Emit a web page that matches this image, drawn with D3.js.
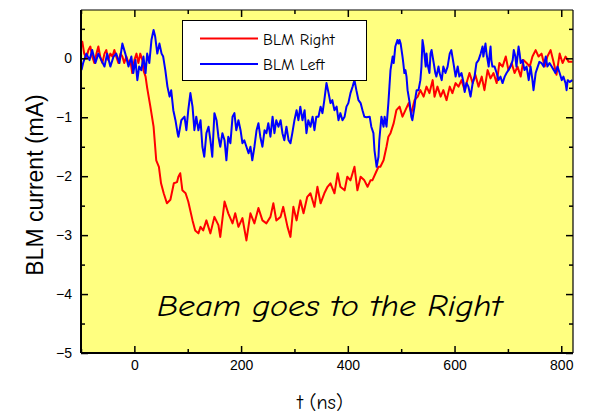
<!DOCTYPE html>
<html>
<head>
<meta charset="utf-8">
<script src="https://cdn.jsdelivr.net/npm/d3@7"></script>
<style>
  html, body { margin: 0; padding: 0; background: #ffffff; }
  svg { display: block; }
</style>
</head>
<body>
<svg id="chart" width="594" height="416"></svg>
<script>
// ---- data ----
const seriesNames = ["BLM Right", "BLM Left"];

const redT = [-99,-97.5,-94,-90,-86,-82.5,-79,-75,-71,-67.5,-64,-60,-56,-52.5,-49,-45,-41,-37.5,-34,-30,-26,-22.5,-19,-15,-11,-7.5,-4,0,4,7.5,11,15,17,21,24,30,36,41,46,50,55,61,67.5,74,80,82.5,86,90,96,101,109,114,120,124,129,135,142.5,150,157.5,161,169,176,184,189,195,202.5,210,217.5,225,232.5,240,247.5,255,260.5,266,274,279,287,292.5,298,304,311,317,324,330,337.5,343,349,356,362,367.5,375,381,386,394,399,405,412.5,418,424,431,437,442.5,446,452,457.5,461,467,472.5,476,480,486,491,497,502.5,508,514,519,525,531,536,542,547.5,553,559,562.5,568,574,579,585,591,596,602,607.5,613,619,622.5,628,634,639,645,651,656,662,667.5,673,679,684,690,696,701,707,712.5,718,724,729,735,741,746,752,757.5,763,769,774,780,786,791,797,802.5,808,814,821];
const redV = [0.20,0.28,0.08,0.00,0.14,0.20,0.03,-0.08,0.08,0.20,0.03,-0.08,0.08,0.14,-0.03,0.08,0.03,0.14,0.03,-0.08,0.08,0.03,-0.08,0.03,-0.08,-0.03,-0.25,-0.03,0.08,-0.08,0.08,-0.03,-0.20,-0.31,-0.50,-0.82,-1.16,-1.73,-1.84,-2.12,-2.29,-2.46,-2.40,-2.12,-2.10,-2.01,-1.95,-2.24,-2.29,-2.43,-2.75,-2.92,-2.97,-2.86,-2.92,-2.75,-2.97,-2.69,-2.83,-3.03,-2.43,-2.63,-2.80,-2.63,-2.86,-2.71,-3.09,-2.63,-2.80,-2.54,-2.75,-2.80,-2.69,-2.46,-2.75,-2.69,-2.52,-2.86,-3.03,-2.52,-2.75,-2.41,-2.63,-2.35,-2.29,-2.52,-2.18,-2.46,-2.29,-2.18,-2.12,-2.29,-1.95,-2.18,-2.24,-2.01,-2.07,-1.84,-2.24,-2.01,-2.07,-2.18,-2.07,-2.07,-1.95,-1.84,-1.84,-1.73,-1.50,-1.33,-1.27,-1.10,-0.88,-0.82,-0.99,-0.88,-0.76,-0.93,-0.71,-0.65,-0.54,-0.65,-0.48,-0.59,-0.37,-0.65,-0.48,-0.65,-0.54,-0.71,-0.48,-0.59,-0.42,-0.48,-0.37,-0.54,-0.42,-0.25,-0.42,-0.28,-0.48,-0.31,-0.54,-0.20,-0.34,-0.25,-0.42,-0.08,-0.14,0.03,-0.20,-0.08,-0.25,-0.14,-0.31,-0.03,-0.08,-0.14,0.03,0.14,0.03,0.08,-0.14,0.03,0.14,-0.08,-0.28,0.08,-0.08,0.03,-0.06,-0.06];

const blueT = [-99,-96,-90,-84,-79,-73,-67.5,-62,-56,-51,-45,-39,-34,-28,-22.5,-17,-11,-5.6,-2,2,5.6,9,13,17,21,24,28,32,36,39,43,47,51,54,58,62,66,69,73,77,81,82.5,88,94,97.5,101,105,109,112.5,116,120,124,127.5,131,135,139,142.5,146,150,154,157.5,161,165,169,172.5,176,180,184,187.5,191,195,199,202.5,206,210,214,217.5,221,225,229,232.5,236,240,244,247.5,251,255,259,262.5,266,270,274,277.5,281,285,289,292.5,296,300,304,307.5,311,315,319,322.5,326,330,334,337.5,341,345,349,352.5,356,360,364,367.5,371,375,379,382.5,386,390,394,397.5,401,405,409,412.5,416,420,424,427.5,431,435,441,444,448,450,454,457.5,459,463,467,469,472.5,476,478,480,484,486,489,493,495,497,499,502.5,504,506,508,510,512,516,517.5,519,521,525,527,529,532.5,536,538,540,542,544,546,547.5,549,553,555,557,561,564,566,570,572,576,579,583,587,591,594,598,602,606,609,613,617,619,622.5,626,630,634,637.5,641,645,649,652.5,654,658,660,664,666,667.5,669,671,675,679,682.5,686,690,694,697.5,701,705,709,711,714,716,720,722,724,727.5,731,735,739,742.5,746,748,752,756,759,763,767,771,774,778,782,786,789,793,797,801,804,808,810,812,816,821];
const blueV = [-0.20,-0.08,0.08,-0.03,0.14,-0.08,0.08,-0.03,-0.14,0.08,-0.14,0.03,0.08,-0.08,0.25,0.08,-0.14,0.03,-0.25,-0.03,-0.37,-0.14,-0.20,0.03,-0.25,0.08,-0.08,0.31,0.48,0.37,0.08,0.25,0.08,0.03,-0.20,-0.48,-0.65,-0.54,-0.88,-1.05,-1.27,-1.33,-1.05,-0.99,-1.22,-0.88,-0.59,-0.82,-1.22,-0.99,-1.22,-1.05,-1.50,-1.67,-1.27,-1.16,-1.39,-1.67,-0.93,-1.05,-1.33,-1.50,-1.27,-1.39,-1.73,-1.33,-1.44,-0.99,-0.93,-1.22,-1.05,-1.22,-1.44,-1.39,-1.50,-1.61,-1.50,-1.73,-1.50,-1.22,-1.10,-1.33,-1.50,-1.22,-1.27,-1.10,-1.33,-0.99,-1.27,-1.05,-1.16,-1.05,-1.27,-1.39,-1.16,-1.39,-1.44,-1.27,-1.05,-0.88,-1.05,-0.82,-1.05,-0.88,-1.27,-1.05,-1.16,-0.99,-1.22,-0.99,-0.99,-0.82,-0.93,-0.71,-0.42,-0.59,-0.76,-0.71,-0.88,-0.82,-1.05,-0.93,-1.05,-0.99,-0.82,-0.76,-0.59,-0.48,-0.37,-0.54,-0.71,-0.76,-0.88,-0.99,-1.00,-0.99,-1.16,-1.27,-1.56,-1.84,-1.67,-1.39,-0.99,-1.16,-0.99,-1.16,-0.76,-0.48,-0.20,0.03,-0.08,0.20,0.31,0.25,0.31,0.25,0.03,-0.08,-0.25,-0.20,-0.31,-0.54,-0.76,-0.88,-0.99,-1.05,-0.82,-0.65,-0.54,-0.54,-0.37,-0.14,0.31,0.20,0.03,-0.14,0.08,-0.08,-0.25,0.08,0.14,-0.08,-0.25,-0.31,-0.14,-0.25,-0.37,-0.14,-0.25,-0.14,0.08,0.14,-0.08,-0.31,-0.14,-0.31,-0.25,-0.42,-0.57,-0.42,-0.48,-0.65,-0.42,-0.31,-0.08,-0.03,0.08,0.20,0.03,0.25,0.08,-0.14,0.08,0.20,-0.03,-0.14,-0.14,-0.25,-0.37,-0.31,-0.42,-0.31,-0.25,-0.20,-0.14,-0.03,0.14,0.03,-0.14,0.20,0.08,-0.08,-0.03,-0.20,-0.14,-0.37,-0.14,-0.37,-0.54,-0.25,-0.14,-0.06,-0.08,-0.14,0.03,-0.14,-0.08,-0.14,-0.20,-0.25,-0.14,-0.25,-0.37,-0.31,-0.42,-0.54,-0.37,-0.40,-0.37];

const xMajorTicks = [0, 200, 400, 600, 800];
const xMinorTicks = [-100, 100, 300, 500, 700];
const yMajorTicks = [-5, -4, -3, -2, -1, 0];
const yMinorTicks = [-4.5, -3.5, -2.5, -1.5, -0.5, 0.5];
const xDomain = [-100, 822];
const yDomain = [-5, 0.82];
const xTitle = "t (ns)";
const yTitle = "BLM current (mA)";
const annotation = "Beam goes to the Right";
const seriesColors = ["#ff0000", "#0000ff"];

// ---- layout ----
const svg = d3.select("#chart");
const L = 81, T = 10, R = 573, B = 353;
const x = d3.scaleLinear().domain(xDomain).range([L, R]);
const y = d3.scaleLinear().domain(yDomain).range([B, T]);
const comic = "'Comic Sans MS','Comic Neue','DejaVu Sans',sans-serif";
const arial = "'Liberation Sans',Arial,sans-serif";

svg.append("rect").attr("x", L).attr("y", T).attr("width", R - L).attr("height", B - T)
  .attr("fill", "#ffff80");

const clip = svg.append("clipPath").attr("id", "clip");
clip.append("rect").attr("x", L).attr("y", T).attr("width", R - L).attr("height", B - T);

// lines
const red = redT.map((t, i) => [t, redV[i]]);
const blue = blueT.map((t, i) => [t, blueV[i]]);
const line = d3.line().x(d => x(d[0])).y(d => y(d[1]));
const gl = svg.append("g").attr("clip-path", "url(#clip)");
gl.append("path").datum(red).attr("d", line).attr("fill", "none")
  .attr("stroke", seriesColors[0]).attr("stroke-width", 2).attr("stroke-linejoin", "round");
gl.append("path").datum(blue).attr("d", line).attr("fill", "none")
  .attr("stroke", seriesColors[1]).attr("stroke-width", 2).attr("stroke-linejoin", "round");

// axes (ticks inward)
function styleAxis(g) {
  g.select(".domain").remove();
  g.selectAll(".tick line").attr("stroke", "#000").attr("stroke-width", 1.5);
  g.selectAll("text").attr("font-family", arial).attr("font-size", 14).attr("fill", "#000");
}
svg.append("g").attr("transform", `translate(0,${B})`)
  .call(d3.axisBottom(x).tickValues(xMajorTicks).tickSizeInner(-7).tickSizeOuter(0).tickPadding(7).tickFormat(d3.format("d")))
  .call(styleAxis);
svg.append("g").attr("transform", `translate(0,${B})`)
  .call(d3.axisBottom(x).tickValues(xMinorTicks).tickSizeInner(-4).tickSizeOuter(0).tickFormat(""))
  .call(styleAxis);
svg.append("g").attr("transform", `translate(0,${T})`)
  .call(d3.axisTop(x).tickValues(xMajorTicks).tickSizeInner(-7).tickSizeOuter(0).tickFormat(""))
  .call(styleAxis);
svg.append("g").attr("transform", `translate(0,${T})`)
  .call(d3.axisTop(x).tickValues(xMinorTicks).tickSizeInner(-4).tickSizeOuter(0).tickFormat(""))
  .call(styleAxis);
svg.append("g").attr("transform", `translate(${L},0)`)
  .call(d3.axisLeft(y).tickValues(yMajorTicks).tickSizeInner(-7).tickSizeOuter(0).tickPadding(9).tickFormat(d3.format("d")))
  .call(styleAxis);
svg.append("g").attr("transform", `translate(${L},0)`)
  .call(d3.axisLeft(y).tickValues(yMinorTicks).tickSizeInner(-4).tickSizeOuter(0).tickFormat(""))
  .call(styleAxis);
svg.append("g").attr("transform", `translate(${R},0)`)
  .call(d3.axisRight(y).tickValues(yMajorTicks).tickSizeInner(-7).tickSizeOuter(0).tickFormat(""))
  .call(styleAxis);
svg.append("g").attr("transform", `translate(${R},0)`)
  .call(d3.axisRight(y).tickValues(yMinorTicks).tickSizeInner(-4).tickSizeOuter(0).tickFormat(""))
  .call(styleAxis);

// frame
svg.append("line").attr("x1", L).attr("x2", R).attr("y1", T).attr("y2", T).attr("stroke", "#000").attr("stroke-width", 1.2);
svg.append("line").attr("x1", R).attr("x2", R).attr("y1", T).attr("y2", B).attr("stroke", "#000").attr("stroke-width", 1.2);
svg.append("line").attr("x1", L).attr("x2", R).attr("y1", B).attr("y2", B).attr("stroke", "#000").attr("stroke-width", 2);
svg.append("line").attr("x1", L).attr("x2", L).attr("y1", T).attr("y2", B).attr("stroke", "#000").attr("stroke-width", 2);

// axis titles
svg.append("text").attr("x", 320).attr("y", 409).attr("text-anchor", "middle")
  .attr("font-family", comic).attr("font-size", 20).text(xTitle);
svg.append("text").attr("transform", "translate(43,185) rotate(-90)").attr("text-anchor", "middle")
  .attr("font-family", arial).attr("font-size", 23).text(yTitle);

// annotation
svg.append("text").attr("x", 157).attr("y", 316).attr("font-family", comic)
  .attr("font-style", "italic").attr("font-size", 31)
  .attr("textLength", 345).attr("lengthAdjust", "spacingAndGlyphs").text(annotation);

// legend
const lg = svg.append("g");
lg.append("rect").attr("x", 182.5).attr("y", 20.5).attr("width", 184).attr("height", 60)
  .attr("fill", "#fff").attr("stroke", "#000").attr("stroke-width", 1);
seriesNames.forEach((name, i) => {
  const yy = 38.5 + i * 25.5;
  lg.append("line").attr("x1", 200).attr("x2", 258).attr("y1", yy).attr("y2", yy)
    .attr("stroke", seriesColors[i]).attr("stroke-width", 2);
  lg.append("text").attr("x", 263).attr("y", yy + 6).attr("font-family", comic)
    .attr("font-size", 16).text(name);
});
</script>
</body>
</html>
